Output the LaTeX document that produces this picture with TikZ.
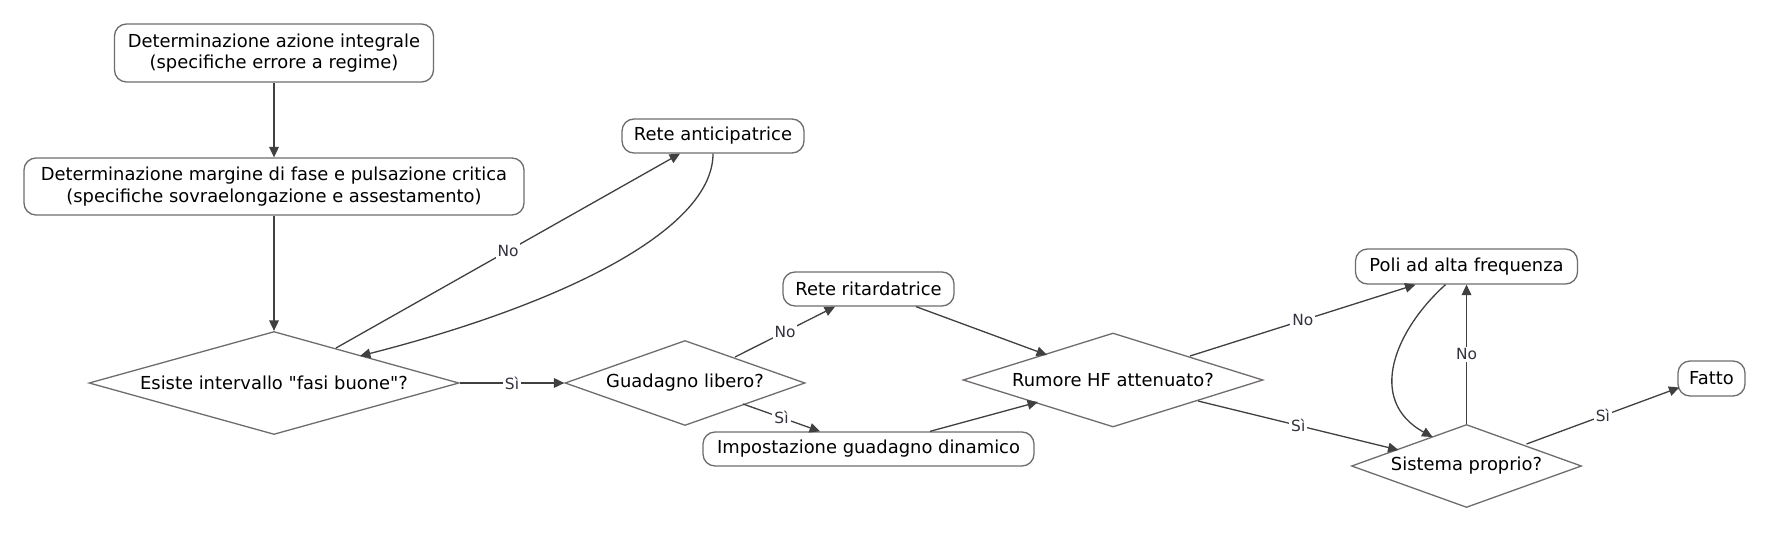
\documentclass[tikz,border=0pt]{standalone}
\usepackage{fontspec}
\setmainfont{DejaVu Sans}
\usetikzlibrary{shapes.geometric,arrows.meta,calc}
\definecolor{nodeborder}{RGB}{112,108,108}
\definecolor{edgecol}{RGB}{64,64,64}
\definecolor{lblcol}{RGB}{50,50,62}
\newcommand\dgNodeFont{\fontsize{8.95}{10.9}\selectfont}
\newcommand\dgLblFont{\fontsize{7.7}{9}\selectfont}
\begin{document}
\begin{tikzpicture}[x=0.5pt,y=-0.5pt,
  box/.style={draw=nodeborder, line width=0.65pt, rounded corners=6pt, inner sep=0pt, align=center, font=\dgNodeFont},
  dia/.style={draw=nodeborder, line width=0.65pt, diamond, inner sep=0pt, font=\dgNodeFont},
  arr/.style={draw=edgecol, line width=0.65pt, -{Triangle[length=5.2pt,width=4.8pt]}},
  lbl/.style={fill=white, inner sep=1pt, text=lblcol, font=\dgLblFont},
]
\useasboundingbox[fill=white] (0,0) rectangle (1770,534);

\node[box, minimum width=159.5pt, minimum height=29pt] (n1) at (274,53) {Determinazione azione integrale\\(specifiche errore a regime)};
\node[box, minimum width=250pt, minimum height=28.5pt] (n2) at (274,186.5) {Determinazione margine di fase e pulsazione critica\\(specifiche sovraelongazione e assestamento)};
\node[box, minimum width=91pt, minimum height=17pt] (anticip) at (713,136) {Rete anticipatrice};
\node[box, minimum width=85.5pt, minimum height=17pt] (ritard) at (868.5,289) {Rete ritardatrice};
\node[box, minimum width=165.5pt, minimum height=17pt] (impost) at (868.5,449) {Impostazione guadagno dinamico};
\node[box, minimum width=111pt, minimum height=17.5pt] (poli) at (1466.5,266.5) {Poli ad alta frequenza};
\node[box, minimum width=33.5pt, minimum height=17.5pt] (fatto) at (1711.5,378.5) {Fatto};

\node[dia, minimum width=185pt, minimum height=51.5pt, shape aspect=3.6] (d1) at (274,383) {Esiste intervallo \textquotedbl fasi buone\textquotedbl ?};
\node[dia, minimum width=120pt, minimum height=42.5pt, shape aspect=2.8] (d2) at (685,383) {Guadagno libero?};
\node[dia, minimum width=150pt, minimum height=47pt, shape aspect=3.2] (d3) at (1113,380) {Rumore HF attenuato?};
\node[dia, minimum width=115pt, minimum height=41.5pt, shape aspect=2.8] (d4) at (1466.5,466) {Sistema proprio?};

\draw[arr] (n1.south) -- (n2.north);
\draw[arr] (n2.south) -- (d1.north);
\draw[arr] ($(d1)+(62,-35)$) -- node[lbl]{No} ($(anticip.south)+(-33,0)$);
\draw[arr] (anticip.south) .. controls +(0,77) and +(200,-51) .. ($(d1)+(86,-27)$);
\draw[arr] (d1.east) -- node[lbl]{Sì} (d2.west);
\draw[arr] ($(d2)+(50,-26)$) -- node[lbl]{No} ($(ritard.south)+(-33.5,0)$);
\draw[arr] ($(d2)+(58,21)$) -- node[lbl]{Sì} ($(impost.north)+(-48.5,0)$);
\draw[arr] ($(ritard.south)+(47.5,0)$) -- ($(d3)+(-66,-25)$);
\draw[arr] ($(impost.north)+(61.5,0)$) -- ($(d3)+(-75,22)$);
\draw[arr] ($(d3)+(77,-24)$) -- node[lbl]{No} ($(poli.south)+(-51,0)$);
\draw[arr] ($(d3)+(85,21)$) -- node[lbl]{Sì} ($(d4)+(-68,-16)$);
\draw[arr] ($(poli.south)+(-21,0)$) .. controls +(-50,45) and +(-67,-37) .. ($(d4)+(-34,-29)$);
\draw[arr] (d4.north) -- node[lbl]{No} (poli.south);
\draw[arr] ($(d4)+(60,-22)$) -- node[lbl]{Sì} ($(fatto.west)+(2,9)$);
\end{tikzpicture}
\end{document}
